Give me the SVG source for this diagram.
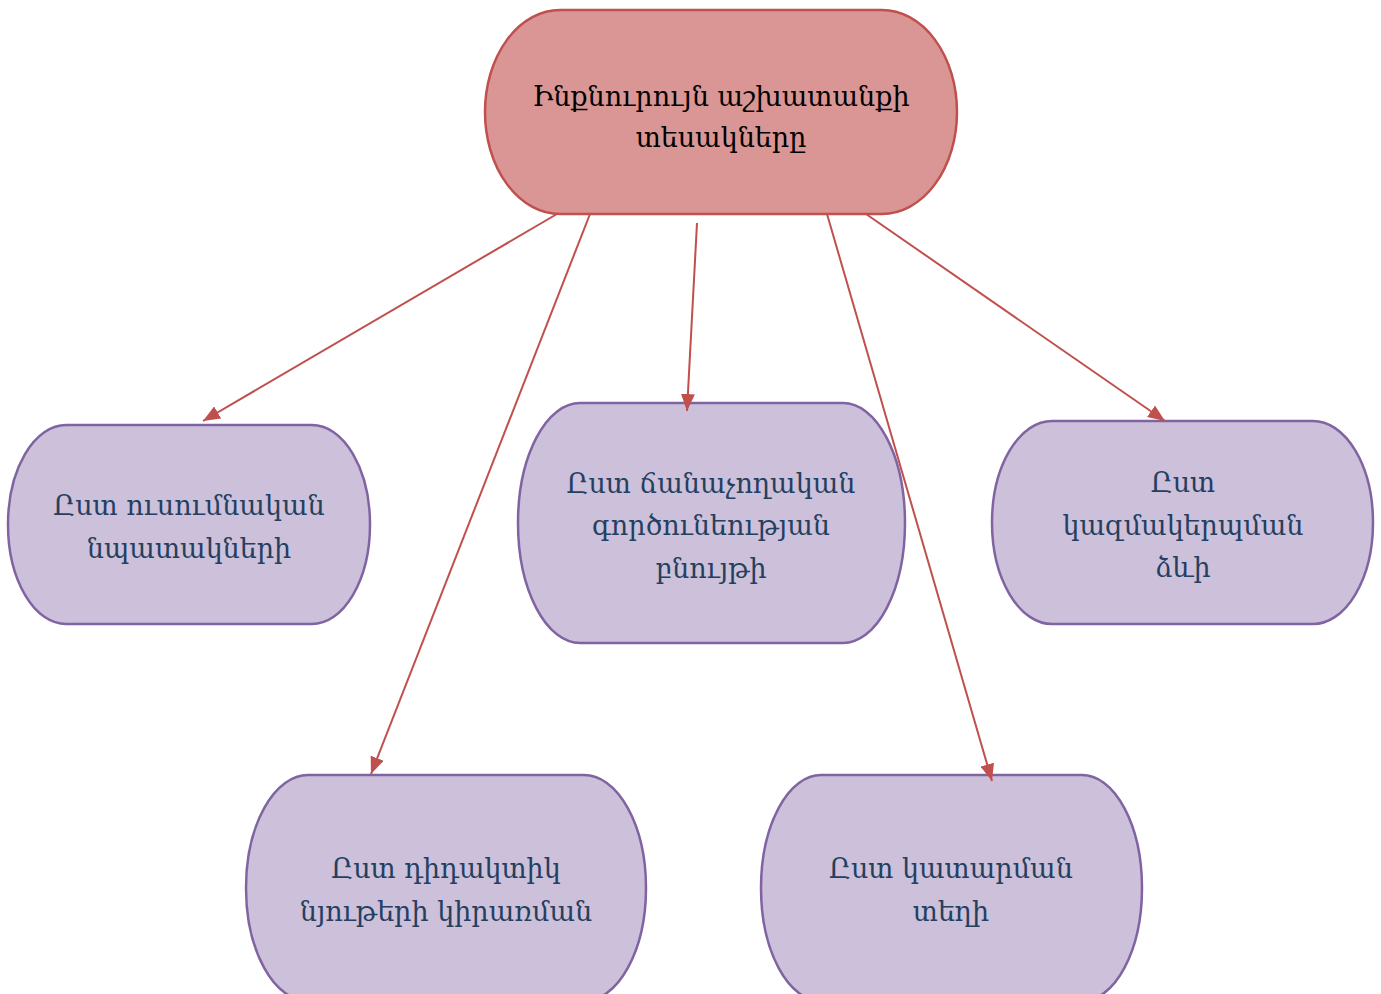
<svg xmlns="http://www.w3.org/2000/svg" width="1381" height="994" viewBox="0 0 1381 994">
<style>
.root{fill:#d99694;stroke:#c0504d;stroke-width:2.5}
.child{fill:#ccc0da;stroke:#8064a2;stroke-width:2.5}
.t{font-family:"DejaVu Serif","Noto Serif","Noto Sans",serif;font-size:27px;text-anchor:middle}
.tr{fill:#000}
.tc{fill:#243f60}
.edge{stroke:#c0504d;stroke-width:2;fill:none;marker-end:url(#ah)}
</style>
<defs>
<marker id="ah" viewBox="0 0 10 10" refX="10" refY="5" markerWidth="17" markerHeight="14" markerUnits="userSpaceOnUse" orient="auto" preserveAspectRatio="none">
<path d="M0,0 L10,5 L0,10 z" fill="#c0504d"/>
</marker>
</defs>
<rect width="1381" height="994" fill="#fff"/>
<g id="root">
<rect class="root" x="485" y="10" width="472" height="204" rx="75" ry="102"/>
<text class="t tr" x="721" y="106">Ինքնուրույն աշխատանքի</text>
<text class="t tr" x="721" y="147">տեսակները</text>
</g>
<g id="n1">
<rect class="child" x="8" y="425" width="362" height="199" rx="58" ry="99.5"/>
<text class="t tc" x="189" y="515">Ըստ ուսումնական</text>
<text class="t tc" x="189" y="558">նպատակների</text>
</g>
<g id="n2">
<rect class="child" x="518" y="403" width="387" height="240" rx="62" ry="120"/>
<text class="t tc" x="711" y="493">Ըստ ճանաչողական</text>
<text class="t tc" x="711" y="535">գործունեության</text>
<text class="t tc" x="711" y="578">բնույթի</text>
</g>
<g id="n3">
<rect class="child" x="992" y="421" width="381" height="203" rx="60" ry="101.5"/>
<text class="t tc" x="1183" y="492">Ըստ</text>
<text class="t tc" x="1183" y="535">կազմակերպման</text>
<text class="t tc" x="1183" y="577">ձևի</text>
</g>
<g id="n4">
<rect class="child" x="246" y="775" width="400" height="226" rx="62" ry="113"/>
<text class="t tc" x="446" y="878">Ըստ դիդակտիկ</text>
<text class="t tc" x="446" y="921">նյութերի կիրառման</text>
</g>
<g id="n5">
<rect class="child" x="761" y="775" width="381" height="226" rx="60" ry="113"/>
<text class="t tc" x="951" y="878">Ըստ կատարման</text>
<text class="t tc" x="951" y="921">տեղի</text>
</g>
<g id="connectors">
<line class="edge" x1="557" y1="214" x2="203" y2="421"/>
<line class="edge" x1="590" y1="214" x2="371" y2="774"/>
<line class="edge" x1="697" y1="223" x2="687" y2="411"/>
<line class="edge" x1="827" y1="214" x2="992" y2="781"/>
<line class="edge" x1="866" y1="214" x2="1165" y2="421"/>
</g>
</svg>
